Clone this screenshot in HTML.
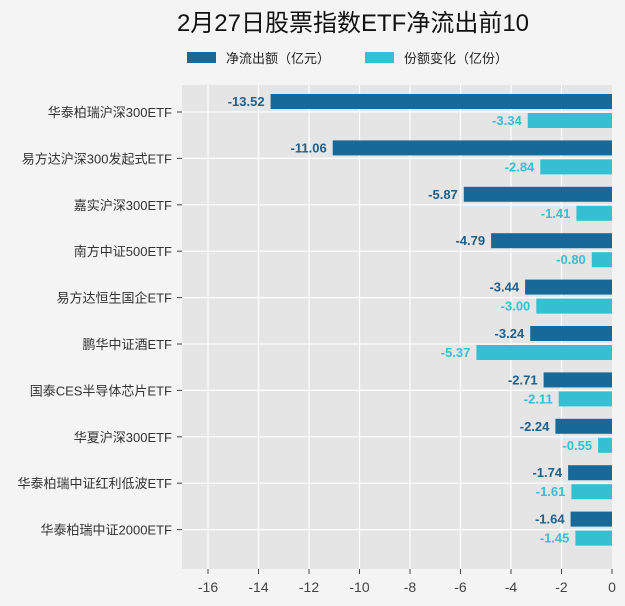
<!DOCTYPE html><html><head><meta charset="utf-8"><style>body{margin:0;background:#f4f4f4}svg{display:block}</style></head><body>
<svg width="625" height="606" xmlns="http://www.w3.org/2000/svg" font-family="Liberation Sans, Noto Sans CJK SC, sans-serif">
<rect width="625" height="606" fill="#f4f4f4"/>
<text x="353" y="31" font-size="24" text-anchor="middle" fill="#111">2月27日股票指数ETF净流出前10</text>
<rect x="187" y="52" width="29" height="11" fill="#17699a"/>
<text x="226" y="63" font-size="13" fill="#222">净流出额（亿元）</text>
<rect x="365" y="52" width="29" height="11" fill="#35bfd3"/>
<text x="404" y="63" font-size="13" fill="#222">份额变化（亿份）</text>
<rect x="182" y="85" width="430" height="484" fill="#e5e5e5"/>
<g stroke="#fff" stroke-width="1.2">
<line x1="208" y1="85" x2="208" y2="569"/><line x1="258.5" y1="85" x2="258.5" y2="569"/><line x1="309" y1="85" x2="309" y2="569"/><line x1="359.5" y1="85" x2="359.5" y2="569"/><line x1="410" y1="85" x2="410" y2="569"/><line x1="460.5" y1="85" x2="460.5" y2="569"/><line x1="511" y1="85" x2="511" y2="569"/><line x1="561.5" y1="85" x2="561.5" y2="569"/>
<line x1="182" y1="112" x2="612" y2="112"/><line x1="182" y1="158.4" x2="612" y2="158.4"/><line x1="182" y1="204.8" x2="612" y2="204.8"/><line x1="182" y1="251.2" x2="612" y2="251.2"/><line x1="182" y1="297.6" x2="612" y2="297.6"/><line x1="182" y1="344" x2="612" y2="344"/><line x1="182" y1="390.4" x2="612" y2="390.4"/><line x1="182" y1="436.8" x2="612" y2="436.8"/><line x1="182" y1="483.2" x2="612" y2="483.2"/><line x1="182" y1="529.6" x2="612" y2="529.6"/>
</g>
<g stroke="#444" stroke-width="1">
<line x1="208" y1="569" x2="208" y2="574"/><line x1="258.5" y1="569" x2="258.5" y2="574"/><line x1="309" y1="569" x2="309" y2="574"/><line x1="359.5" y1="569" x2="359.5" y2="574"/><line x1="410" y1="569" x2="410" y2="574"/><line x1="460.5" y1="569" x2="460.5" y2="574"/><line x1="511" y1="569" x2="511" y2="574"/><line x1="561.5" y1="569" x2="561.5" y2="574"/><line x1="612" y1="569" x2="612" y2="574"/>
<line x1="177" y1="112" x2="182" y2="112"/><line x1="177" y1="158.4" x2="182" y2="158.4"/><line x1="177" y1="204.8" x2="182" y2="204.8"/><line x1="177" y1="251.2" x2="182" y2="251.2"/><line x1="177" y1="297.6" x2="182" y2="297.6"/><line x1="177" y1="344" x2="182" y2="344"/><line x1="177" y1="390.4" x2="182" y2="390.4"/><line x1="177" y1="436.8" x2="182" y2="436.8"/><line x1="177" y1="483.2" x2="182" y2="483.2"/><line x1="177" y1="529.6" x2="182" y2="529.6"/>
</g>
<g font-size="14" text-anchor="middle" fill="#444">
<text x="208" y="592">-16</text><text x="258.5" y="592">-14</text><text x="309" y="592">-12</text><text x="359.5" y="592">-10</text><text x="410" y="592">-8</text><text x="460.5" y="592">-6</text><text x="511" y="592">-4</text><text x="561.5" y="592">-2</text><text x="612" y="592">0</text>
</g>
<g font-size="13" text-anchor="end" fill="#333">
<text x="172" y="117">华泰柏瑞沪深300ETF</text><text x="172" y="163.4">易方达沪深300发起式ETF</text><text x="172" y="209.8">嘉实沪深300ETF</text><text x="172" y="256.2">南方中证500ETF</text><text x="172" y="302.6">易方达恒生国企ETF</text><text x="172" y="349">鹏华中证酒ETF</text><text x="172" y="395.4">国泰CES半导体芯片ETF</text><text x="172" y="441.8">华夏沪深300ETF</text><text x="172" y="488.2">华泰柏瑞中证红利低波ETF</text><text x="172" y="534.6">华泰柏瑞中证2000ETF</text>
</g>
<g fill="#17699a">
<rect x="270.6" y="94" width="341.4" height="15"/><rect x="332.7" y="140.4" width="279.3" height="15"/><rect x="463.8" y="186.8" width="148.2" height="15"/><rect x="491.1" y="233.2" width="120.9" height="15"/><rect x="525.1" y="279.6" width="86.9" height="15"/><rect x="530.2" y="326" width="81.8" height="15"/><rect x="543.6" y="372.4" width="68.4" height="15"/><rect x="555.4" y="418.8" width="56.6" height="15"/><rect x="568.1" y="465.2" width="43.9" height="15"/><rect x="570.6" y="511.6" width="41.4" height="15"/>
</g>
<g fill="#35bfd3">
<rect x="527.7" y="113" width="84.3" height="15"/><rect x="540.3" y="159.4" width="71.7" height="15"/><rect x="576.4" y="205.8" width="35.6" height="15"/><rect x="591.8" y="252.2" width="20.2" height="15"/><rect x="536.3" y="298.6" width="75.7" height="15"/><rect x="476.4" y="345" width="135.6" height="15"/><rect x="558.7" y="391.4" width="53.3" height="15"/><rect x="598.1" y="437.8" width="13.9" height="15"/><rect x="571.4" y="484.2" width="40.6" height="15"/><rect x="575.4" y="530.6" width="36.6" height="15"/>
</g>
<g font-size="13" font-weight="bold" text-anchor="end" fill="#1f5f8a">
<text x="264.6" y="106">-13.52</text><text x="326.7" y="152.4">-11.06</text><text x="457.8" y="198.8">-5.87</text><text x="485.1" y="245.2">-4.79</text><text x="519.1" y="291.6">-3.44</text><text x="524.2" y="338">-3.24</text><text x="537.6" y="384.4">-2.71</text><text x="549.4" y="430.8">-2.24</text><text x="562.1" y="477.2">-1.74</text><text x="564.6" y="523.6">-1.64</text>
</g>
<g font-size="13" font-weight="bold" text-anchor="end" fill="#35bfd3">
<text x="521.7" y="125">-3.34</text><text x="534.3" y="171.4">-2.84</text><text x="570.4" y="217.8">-1.41</text><text x="585.8" y="264.2">-0.80</text><text x="530.3" y="310.6">-3.00</text><text x="470.4" y="357">-5.37</text><text x="552.7" y="403.4">-2.11</text><text x="592.1" y="449.8">-0.55</text><text x="565.4" y="496.2">-1.61</text><text x="569.4" y="542.6">-1.45</text>
</g>
</svg></body></html>
